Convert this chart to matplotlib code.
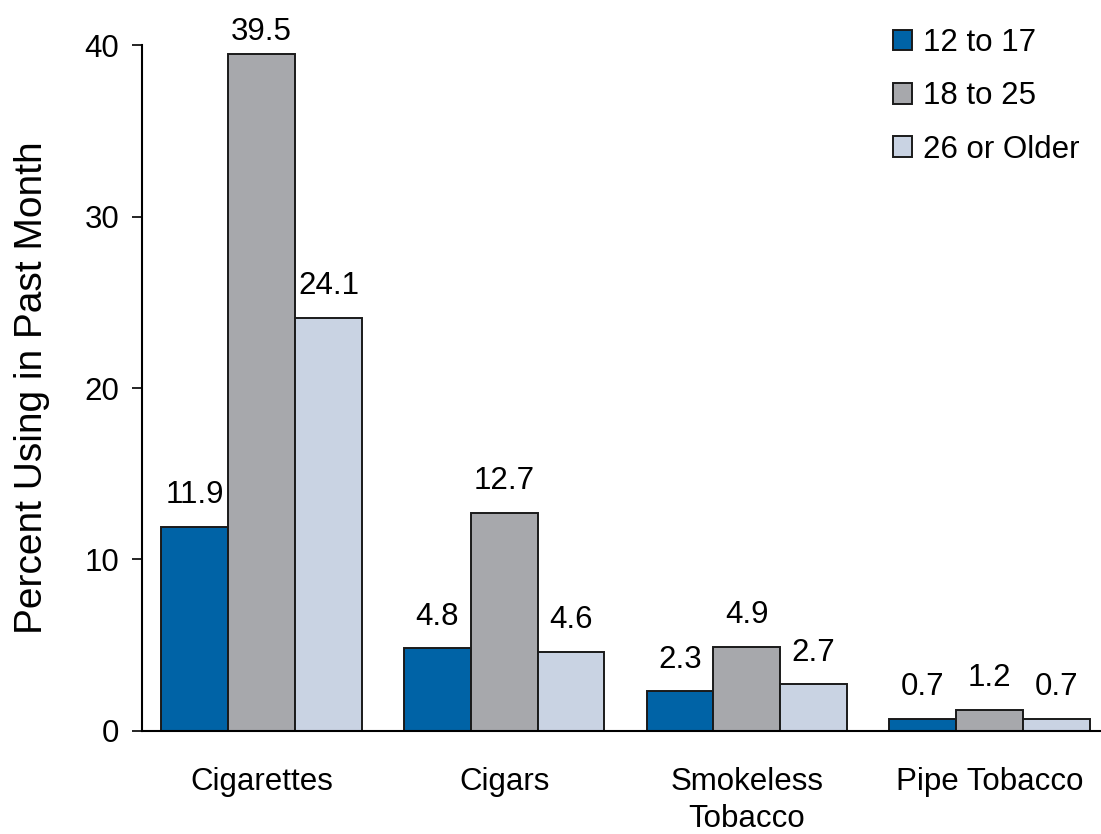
import matplotlib
matplotlib.use("Agg")
import matplotlib.pyplot as plt
import numpy as np

plt.rcParams['font.family'] = ['Liberation Sans', 'DejaVu Sans']

categories = ['Cigarettes', 'Cigars', 'Smokeless\nTobacco', 'Pipe Tobacco']
age_groups = ['12 to 17', '18 to 25', '26 or Older']
pct_12_17 = [11.9, 4.8, 2.3, 0.7]
pct_18_25 = [39.5, 12.7, 4.9, 1.2]
pct_26_up = [24.1, 4.6, 2.7, 0.7]

colors = ['#0063a6', '#a7a8ac', '#c9d3e3']

fig = plt.figure(figsize=(11.01, 8.34), dpi=100)
ax = fig.add_axes([0.1287, 0.1239, 0.8713, 0.8217])

x = np.arange(len(categories))
width = 0.2755
ymax = 40

for i, (vals, label) in enumerate(zip([pct_12_17, pct_18_25, pct_26_up], age_groups)):
    pos = x + (i - 1) * width
    bars = ax.bar(pos, vals, width, color=colors[i], edgecolor='#1a1a1a',
                  linewidth=1.4, label=label, zorder=2)
    for b, v in zip(bars, vals):
        # tallest bar gets its label pulled in so it stays on the canvas
        off = 5 if v > ymax - 2 else 12
        ax.annotate(f'{v:.1f}', (b.get_x() + b.get_width() / 2, v),
                    xytext=(0, off), textcoords='offset points',
                    ha='center', va='bottom', fontsize=22.5, annotation_clip=False)

ax.set_ylim(0, ymax)
ax.set_xlim(-0.494, 3.46)
ax.set_yticks([0, 10, 20, 30, 40])
ax.set_xticks(x)
ax.set_xticklabels(categories, fontsize=22.5, linespacing=1.32)
ax.tick_params(axis='x', length=0, pad=26)
ax.tick_params(axis='y', length=7, width=1.2, pad=9, labelsize=22.5)

ax.spines['top'].set_visible(False)
ax.spines['right'].set_visible(False)
ax.spines['left'].set_linewidth(1.5)
ax.spines['bottom'].set_linewidth(1.5)

ax.set_ylabel('Percent Using in Past Month', fontsize=28, labelpad=25)

ax.legend(loc='upper left', bbox_to_anchor=(0.811, 0.966), bbox_transform=fig.transFigure,
          frameon=False, fontsize=22.5, handlelength=0.62, handleheight=0.62,
          handletextpad=0.35, labelspacing=0.74, borderpad=0, borderaxespad=0)

fig.savefig('out.png', dpi=100)
